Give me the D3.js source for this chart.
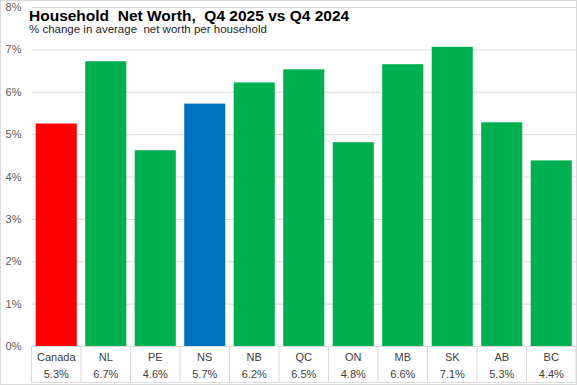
<!doctype html>
<html lang="en">
<head>
  <meta charset="utf-8">
  <title>Household Net Worth</title>
  <script src="https://d3js.org/d3.v7.min.js"></script>
  <style>
    body { margin: 0; background: #fff; }
    text { font-family: "Liberation Sans", Arial, sans-serif; }
  </style>
</head>
<body>
<script>
  // data
  var regions = ["Canada", "NL", "PE", "NS", "NB", "QC", "ON", "MB", "SK", "AB", "BC"];
  var changes = [5.25, 6.72, 4.62, 5.72, 6.22, 6.53, 4.81, 6.65, 7.06, 5.28, 4.38];
  var labels  = ["5.3%", "6.7%", "4.6%", "5.7%", "6.2%", "6.5%", "4.8%", "6.6%", "7.1%", "5.3%", "4.4%"];
  var yTicks  = [0, 1, 2, 3, 4, 5, 6, 7, 8];

  var W = 577, H = 385;
  var margin = {top: 7, right: 1, bottom: 39, left: 31.5};
  var width  = W - margin.left - margin.right;
  var height = H - margin.top - margin.bottom;

  function barColor(d) {
    if (d === "Canada") return "#FF0000";
    if (d === "NS") return "#0070C0";
    return "#00B050";
  }

  var svg = d3.select("body").append("svg")
    .attr("width", W)
    .attr("height", H);

  // outer border
  svg.append("rect")
    .attr("x", 0.5).attr("y", 0.5)
    .attr("width", W - 1).attr("height", H - 1)
    .attr("fill", "none")
    .attr("stroke", "#D9D9D9");

  var g = svg.append("g")
    .attr("transform", "translate(" + margin.left + "," + margin.top + ")");

  var x = d3.scaleBand()
    .domain(regions)
    .range([0, width])
    .paddingInner(0.17)
    .paddingOuter(0.085);

  var y = d3.scaleLinear()
    .domain([0, 8])
    .range([height, 0]);

  // gridlines + tick labels
  var yAxis = g.append("g")
    .call(d3.axisLeft(y).tickValues(yTicks).tickSize(-width).tickFormat(function(d) { return d + "%"; }));
  yAxis.select(".domain").remove();
  yAxis.selectAll(".tick line").attr("stroke", "#D9D9D9");
  yAxis.selectAll(".tick text")
    .attr("x", -10)
    .attr("fill", "#595959")
    .style("font-size", "11px");

  // bars
  g.selectAll(".bar")
    .data(regions)
    .enter()
    .append("rect")
    .attr("class", "bar")
    .attr("x", function(d) { return x(d); })
    .attr("y", function(d, i) { return y(changes[i]); })
    .attr("width", x.bandwidth())
    .attr("height", function(d, i) { return height - y(changes[i]); })
    .attr("fill", barColor);

  // data table under the axis
  var step = x.step();
  var bounds = d3.range(regions.length + 1).map(function(i) { return i * step; });
  var table = g.append("g").attr("transform", "translate(0," + height + ")");

  table.selectAll(".vline")
    .data(bounds)
    .enter()
    .append("line")
    .attr("x1", function(d) { return d; })
    .attr("x2", function(d) { return d; })
    .attr("y1", 0)
    .attr("y2", 37)
    .attr("stroke", "#D9D9D9");

  table.append("line")
    .attr("x1", 0).attr("x2", width)
    .attr("y1", 0.5).attr("y2", 0.5)
    .attr("stroke", "#D9D9D9");
  table.append("line")
    .attr("x1", 0).attr("x2", width)
    .attr("y1", 36.5).attr("y2", 36.5)
    .attr("stroke", "#D9D9D9");

  table.selectAll(".cat")
    .data(regions)
    .enter()
    .append("text")
    .attr("x", function(d) { return x(d) + x.bandwidth() / 2; })
    .attr("y", 15)
    .attr("text-anchor", "middle")
    .attr("fill", "#404040")
    .style("font-size", "11px")
    .text(function(d) { return d; });

  table.selectAll(".val")
    .data(labels)
    .enter()
    .append("text")
    .attr("x", function(d, i) { return x(regions[i]) + x.bandwidth() / 2; })
    .attr("y", 32)
    .attr("text-anchor", "middle")
    .attr("fill", "#404040")
    .style("font-size", "11px")
    .text(function(d) { return d; });

  // title
  svg.append("text")
    .attr("x", 29).attr("y", 21)
    .style("font-size", "15.5px")
    .style("font-weight", "bold")
    .attr("fill", "#000")
    .attr("xml:space", "preserve")
    .text("Household  Net Worth,  Q4 2025 vs Q4 2024");

  svg.append("text")
    .attr("x", 29).attr("y", 33)
    .style("font-size", "11.5px")
    .attr("fill", "#262626")
    .attr("xml:space", "preserve")
    .text("% change in average  net worth per household");
</script>
</body>
</html>
